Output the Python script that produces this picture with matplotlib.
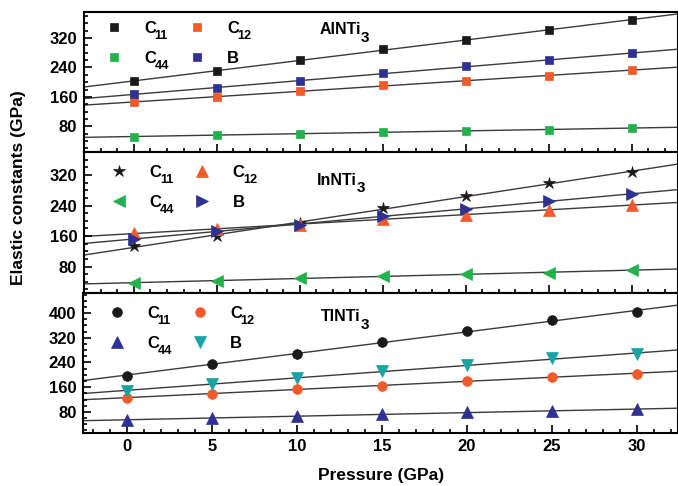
import numpy as np
import matplotlib
matplotlib.use("Agg")
import matplotlib.pyplot as plt
from matplotlib.ticker import MultipleLocator

plt.rcParams['font.family'] = ['Liberation Sans', 'DejaVu Sans']
plt.rcParams['font.weight'] = 'bold'

pressure = [0, 5, 10, 15, 20, 25, 30]

# AlNTi3
aln_c11 = [203, 230, 259, 289, 315, 341, 369]
aln_c12 = [146, 160, 175, 191, 204, 218, 232]
aln_c44 = [52, 57, 60, 64, 67, 71, 76]
aln_b = [167, 184, 204, 224, 243, 260, 278]

# InNTi3
inn_c11 = [134, 159, 194, 233, 264, 299, 328]
inn_c12 = [169, 178, 189, 204, 216, 229, 242]
inn_c44 = [36, 43, 51, 56, 60, 64, 70]
inn_b = [153, 172, 190, 213, 231, 252, 270]

# TlNTi3
tln_c11 = [197, 235, 269, 306, 341, 376, 405]
tln_c12 = [125, 139, 154, 165, 181, 192, 204]
tln_c44 = [53, 61, 66, 73, 78, 82, 89]
tln_b = [149, 169, 190, 211, 233, 253, 267]

black = '#1a1a1a'
orange = '#f15a29'
green = '#22b24c'
navy = '#2e3192'
teal = '#19a3a3'

# legend order (ncol=2 fills by column): C11, C44 | C12, B
leg_main = ['C', 'C', 'C', 'B']
leg_sub = ['11', '44', '12', '']

panels = [
    {
        'name': ('AlNTi', '3'),
        'rect': [0.124, 0.687, 0.876, 0.288],
        'xlim': (-3, 32.8), 'ylim': (10, 390),
        'series': [
            (aln_c11, 's', black, 6.2),
            (aln_c44, 's', green, 6.2),
            (aln_c12, 's', orange, 6.2),
            (aln_b, 's', navy, 6.2),
        ],
        'yticks': [80, 160, 240, 320],
        'leg': (0.036, 0.935),
        'name_pos': (0.396, 0.875),
    },
    {
        'name': ('InNTi', '3'),
        'rect': [0.124, 0.3965, 0.876, 0.2905],
        'xlim': (-3, 32.8), 'ylim': (10, 380),
        'series': [
            (inn_c11, '*', black, 9),
            (inn_c44, '<', green, 8),
            (inn_c12, '^', orange, 8),
            (inn_b, '>', navy, 8),
        ],
        'yticks': [80, 160, 240, 320],
        'leg': (0.045, 0.912),
        'name_pos': (0.392, 0.80),
    },
    {
        'name': ('TlNTi', '3'),
        'rect': [0.123, 0.11, 0.877, 0.2865],
        'xlim': (-2.55, 32.4), 'ylim': (13, 464),
        'series': [
            (tln_c11, 'o', black, 7),
            (tln_c44, '^', navy, 8),
            (tln_c12, 'o', orange, 7),
            (tln_b, 'v', teal, 8),
        ],
        'yticks': [80, 160, 240, 320, 400],
        'leg': (0.042, 0.911),
        'name_pos': (0.40, 0.832),
    },
]

fig = plt.figure(figsize=(6.78, 4.86), dpi=100)

for i, p in enumerate(panels):
    ax = fig.add_axes(p['rect'])
    xs = np.array(p['xlim'])
    for j, (vals, mk, col, ms) in enumerate(p['series']):
        k, b = np.polyfit(pressure, vals, 1)
        ax.plot(xs, k * xs + b, color='#3a3a3a', lw=1.0, zorder=1)
        ax.plot(pressure, vals, linestyle='none', marker=mk, color=col,
                markersize=ms, markeredgecolor=col, markeredgewidth=0.5,
                label=leg_main[j], zorder=3)
    ax.set_xlim(*p['xlim'])
    ax.set_ylim(*p['ylim'])
    ax.set_yticks(p['yticks'])
    ax.xaxis.set_major_locator(MultipleLocator(5))
    ax.xaxis.set_minor_locator(MultipleLocator(1))
    ax.yaxis.set_minor_locator(MultipleLocator(20))
    ax.tick_params(which='both', direction='in', top=False, right=False,
                   width=1.2, labelsize=12, pad=5)
    ax.tick_params(which='major', length=6)
    ax.tick_params(which='minor', length=3)
    for s in ax.spines.values():
        s.set_linewidth(1.5)
    if i < 2:
        ax.tick_params(axis='x', labelbottom=False)
    else:
        ax.set_xlabel('Pressure (GPa)', fontsize=12.5, fontweight='bold', labelpad=10)

    leg = ax.legend(ncol=2, frameon=False, loc='upper left', bbox_to_anchor=p['leg'],
                    borderpad=0, borderaxespad=0, handlelength=1.0, handletextpad=1.32,
                    columnspacing=1.95, labelspacing=0.9,
                    prop={'size': 12, 'weight': 'bold'})
    for t, sub in zip(leg.get_texts(), leg_sub):
        if sub:
            ax.annotate(sub, xy=(1, 0), xycoords=t, xytext=(-1.5, -3.2),
                        textcoords='offset pixels', va='baseline', ha='left',
                        fontsize=9.2, fontweight='bold', zorder=10)

    nt = ax.text(p['name_pos'][0], p['name_pos'][1], p['name'][0], transform=ax.transAxes,
                 fontsize=11.5, fontweight='bold', va='center', ha='left')
    ax.annotate(p['name'][1], xy=(1, 0), xycoords=nt, xytext=(0, -4.5),
                textcoords='offset pixels', va='baseline', ha='left',
                fontsize=11, fontweight='bold', zorder=10)

fig.text(0.027, 0.613, 'Elastic constants (GPa)', rotation=90, va='center', ha='center',
         fontsize=12.5, fontweight='bold')

fig.canvas.draw()
fig.savefig('out.png', dpi=100)
